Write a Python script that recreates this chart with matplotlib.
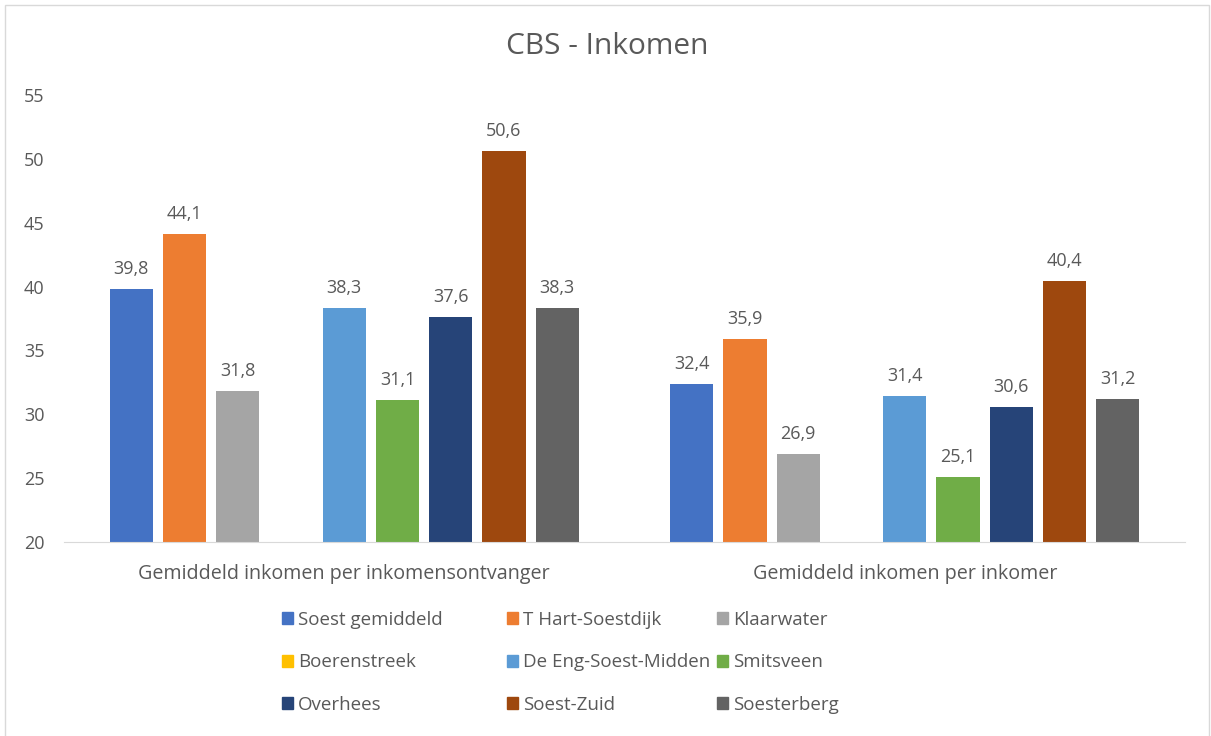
import numpy as np
import matplotlib
matplotlib.use("Agg")
from matplotlib import pyplot as plt
from matplotlib.patches import Rectangle, Patch

plt.rcParams['font.family'] = ['Open Sans', 'DejaVu Sans']

categories = ['Gemiddeld inkomen per inkomensontvanger', 'Gemiddeld inkomen per inkomer']
series = ['Soest gemiddeld', 'T Hart-Soestdijk', 'Klaarwater', 'Boerenstreek',
          'De Eng-Soest-Midden', 'Smitsveen', 'Overhees', 'Soest-Zuid', 'Soesterberg']
values = {
    'Soest gemiddeld': [39.8, 32.4],
    'T Hart-Soestdijk': [44.1, 35.9],
    'Klaarwater': [31.8, 26.9],
    'Boerenstreek': [np.nan, np.nan],
    'De Eng-Soest-Midden': [38.3, 31.4],
    'Smitsveen': [31.1, 25.1],
    'Overhees': [37.6, 30.6],
    'Soest-Zuid': [50.6, 40.4],
    'Soesterberg': [38.3, 31.2],
}
colors = ['#4472C4', '#ED7D31', '#A5A5A5', '#FFC000', '#5B9BD5',
          '#70AD47', '#264478', '#9E480E', '#636363']
yticks = [20, 25, 30, 35, 40, 45, 50, 55]

txt = '#595959'
fig = plt.figure(figsize=(12.11, 7.36), dpi=100)
ax = fig.add_axes([64 / 1211, 1 - 542 / 736, (1185 - 64) / 1211, (542 - 95) / 736])

x = np.arange(len(categories))
pitch = 0.095
width = 0.0775
for i, name in enumerate(series):
    pos = x + (i - 4) * pitch
    vals = np.array(values[name], dtype=float)
    ax.bar(pos, vals - 20, bottom=20, width=width, color=colors[i], label=name)
    for p, v in zip(pos, vals):
        if not np.isnan(v):
            ax.annotate(f'{v:.1f}'.replace('.', ','), (p, v), xytext=(0, 8),
                        textcoords='offset points', ha='center', va='bottom',
                        fontsize=13, color=txt)

ax.set_xlim(-0.5, 1.5)
ax.set_ylim(20, 55)
ax.set_yticks(yticks)
ax.set_yticklabels([str(t) for t in yticks], fontsize=13, color=txt)
ax.set_xticks(x)
ax.set_xticklabels(categories, fontsize=14.2, color=txt)
ax.tick_params(axis='y', length=0, pad=14)
ax.tick_params(axis='x', length=0, pad=16)
for s in ['top', 'right', 'left']:
    ax.spines[s].set_visible(False)
ax.spines['bottom'].set_color('#d9d9d9')

fig.text(607 / 1211, 1 - 46 / 736, 'CBS - Inkomen', ha='center', va='center',
         fontsize=21.5, color=txt)

# legend, three columns placed like Excel
col_x = [282, 507, 717]
for c in range(3):
    idx = [c, c + 3, c + 6]
    handles = [Patch(color=colors[i]) for i in idx]
    fig.legend(handles, [series[i] for i in idx], loc='upper left',
               bbox_to_anchor=(col_x[c] / 1211, 1 - 611 / 736), frameon=False,
               fontsize=13.5, labelcolor=txt, handlelength=0.6, handleheight=0.6,
               handletextpad=0.25, labelspacing=1.3, borderpad=0, borderaxespad=0)

fig.patches.append(Rectangle((5 / 1211, -0.01), 1204 / 1211, 1 - 5 / 736 + 0.01,
                             transform=fig.transFigure, fill=False,
                             edgecolor='#d9d9d9', linewidth=1))

fig.savefig('out.png', dpi=100)
